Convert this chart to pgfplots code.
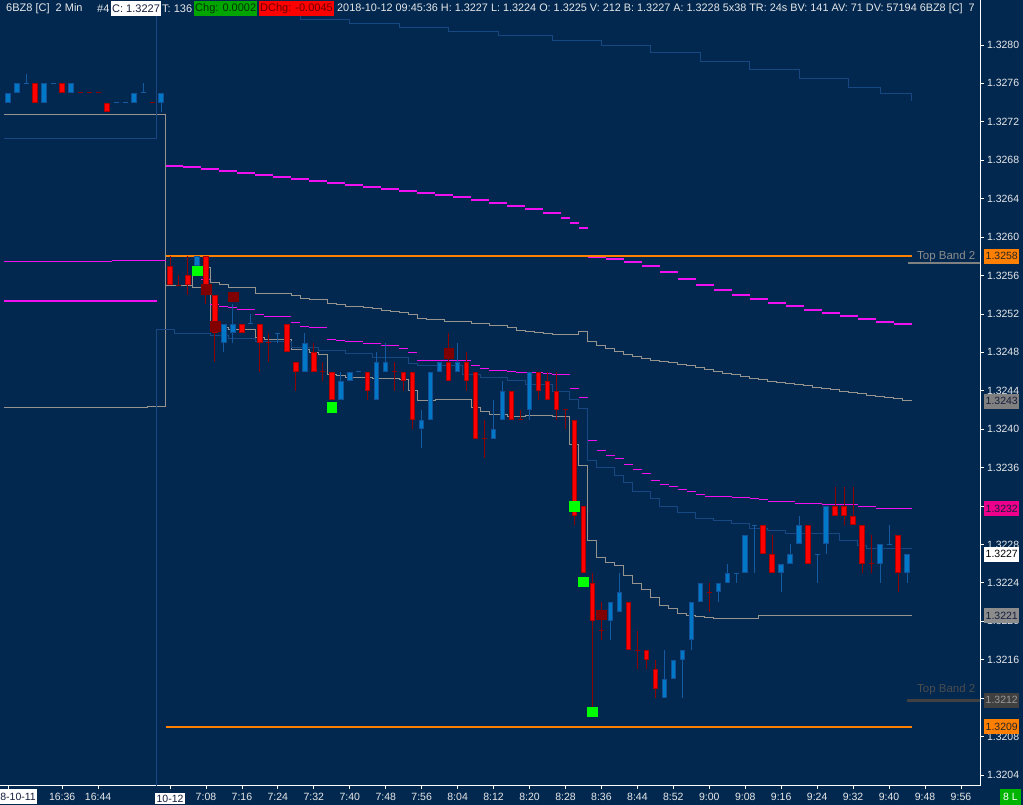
\documentclass[border=0pt]{standalone}
\usepackage{fontspec}
\setmainfont{Liberation Sans}
\usepackage{pgfplots}
\usepackage{pgfplotstable}
\pgfplotsset{compat=1.18}
\definecolor{bg}{RGB}{2,40,80}
\definecolor{hdr}{RGB}{232,232,232}
\definecolor{navytxt}{RGB}{20,30,60}
\definecolor{orng}{RGB}{255,128,0}
\definecolor{mag}{RGB}{240,16,240}
\definecolor{gline}{RGB}{150,148,142}
\definecolor{bline}{RGB}{24,72,130}
\definecolor{bfill}{RGB}{0,120,200}
\definecolor{bborder}{RGB}{20,80,150}
\definecolor{bwick}{RGB}{20,90,160}
\definecolor{rfill}{RGB}{255,0,0}
\definecolor{rborder}{RGB}{170,0,0}
\definecolor{rwick}{RGB}{140,0,0}
\definecolor{dred}{RGB}{128,0,0}
\definecolor{sqgreen}{RGB}{0,255,0}
\definecolor{hgreen}{RGB}{0,165,0}
\definecolor{lgreen}{RGB}{0,180,0}
\newcommand\hf{\fontsize{11}{13}\selectfont}
\newcommand\tf{\fontsize{10.5}{12}\selectfont}
\setlength{\fboxsep}{2pt}

% t = minutes after 7:00 (2-min bars), prices in 0.0001 above 1.3200, d: 1 blue, -1 red
\pgfplotstableread{
t o h l c d
-36 74 75 74 75 1
-34 75 76 75 76 1
-32 76 77 76 76 1
-30 76 76 74 74 -1
-28 74 76 74 76 1
-26 76 76 76 76 1
-24 76 76 75 75 -1
-22 75 76 75 76 1
-20 75 75 75 75 -1
-18 75 75 75 75 -1
-16 75 75 75 75 -1
-14 74 74 73 73 -1
-12 74 74 74 74 1
-10 74 74 74 74 1
-8 74 75 74 75 1
-6 75 76 75 75 1
-4 74 74 74 74 -1
-2 74 75 73 75 1
0 57 58 55 55 -1
2 55 56 55 55 -1
4 56 58 54 55 -1
6 57 58 57 58 1
8 58 58 53 54 -1
10 54 54 47 50 -1
12 49 51 48 51 1
14 50 53 49 51 1
16 51 51 50 50 -1
18 51 52 51 51 1
20 51 51 46 49 -1
22 49 50 47 49 -1
24 50 50 49 50 1
26 51 51 48 48 -1
28 47 47 44 46 -1
30 46 50 46 49 1
32 48 49 46 46 -1
34 46 47 45 46 -1
36 46 46 43 43 -1
38 43 46 43 45 1
40 45 46 45 46 1
42 46 46 46 46 1
44 46 46 43 44 -1
46 43 48 43 47 1
48 46 49 46 47 1
50 46 47 44 46 -1
52 46 46 44 45 -1
54 46 46 40 41 -1
56 40 42 38 41 1
58 41 46 41 46 1
60 46 47 46 47 1
62 47 50 45 45 -1
64 46 49 46 47 1
66 47 48 44 45 -1
68 46 46 39 39 -1
70 39 41 37 39 -1
72 39 43 39 40 1
74 41 45 41 44 1
76 44 44 41 41 -1
78 41 42 41 41 -1
80 42 46 41 46 1
82 46 46 43 44 -1
84 45 46 43 43 -1
86 44 46 41 42 -1
88 42 42 40 42 -1
90 41 41 30 31 -1
92 32 32 25 25 -1
94 24 25 10 20 -1
96 19 22 18 19 -1
98 20 22 18 22 1
100 21 25 21 23 1
102 22 22 17 17 -1
104 17 19 15 17 -1
106 17 17 15 16 -1
108 15 16 12 13 -1
110 12 17 12 14 1
112 14 16 14 16 1
114 16 17 12 17 1
116 18 22 17 22 1
118 22 24 22 24 1
120 23 24 21 23 -1
122 23 24 22 24 1
124 24 26 24 25 1
126 25 25 24 25 1
128 25 29 25 29 1
130 30 30 25 30 1
132 30 30 27 27 -1
134 27 29 25 25 -1
136 25 26 23 26 1
138 26 28 26 27 1
140 28 31 28 30 1
142 30 30 26 26 -1
144 27 27 24 27 1
146 28 32 27 32 1
148 32 34 31 31 -1
150 32 34 30 31 -1
152 31 34 30 30 -1
154 30 30 25 26 -1
156 26 29 25 26 -1
158 26 28 24 28 1
160 28 30 28 28 1
162 29 29 23 25 -1
164 25 27 24 27 1
}\bars

\begin{document}
\begin{tikzpicture}
\useasboundingbox (0pt,0pt) rectangle (1023pt,805pt);
\fill[bg] (0pt,0pt) rectangle (1023pt,805pt);
\begin{axis}[
  at={(0pt,19pt)}, anchor=south west,
  scale only axis,
  x=4.494pt, y=9.605pt,
  xmin=-37.83, xmax=180.24, ymin=2.85, ymax=82.92,
  axis x line*=bottom, axis y line*=right,
  axis line style={draw=white, line width=1pt},
  tick align=outside, major tick length=3.5pt,
  tick style={draw=white, line width=0.8pt},
  xtick={-36,-24,-16,0,8,16,24,32,40,48,56,64,72,80,88,96,104,112,120,128,136,144,152,160,168,176},
  xticklabels={{},16:36,16:44,{\colorbox{white}{\textcolor{navytxt}{10-12}}},7:08,7:16,7:24,7:32,7:40,7:48,7:56,8:04,8:12,8:20,8:28,8:36,8:44,8:52,9:00,9:08,9:16,9:24,9:32,9:40,9:48,9:56},
  ytick={4,8,...,80},
  yticklabels={1.3204,1.3208,1.3212,1.3216,1.3220,1.3224,1.3228,1.3232,1.3236,1.3240,1.3244,1.3248,1.3252,1.3256,1.3260,1.3264,1.3268,1.3272,1.3276,1.3280},
  ticklabel style={font=\tf, text=hdr},
  clip=true,
  candle/.style={draw=none, mark=none, error bars/.cd, y dir=both, y explicit, error mark=none},
]
% --- gray bands (prior day + session) ---
\addplot[const plot mark left, gline, line width=1pt] coordinates {
(-37,72.71) (-21,72.78) (-1,55.0) (5,56.8) (9,55.3) (11,55.1) (13,54.8) (15,54.7) (19,54.1) (27,53.9) (29,53.6) (31,53.5) (35,53.1) (37,53.0) (39,52.8) (43,52.7) (45,52.6) (47,52.4) (49,52.3) (51,52.1) (53,51.9) (55,51.5) (57,51.4) (61,51.2) (67,51.0) (71,50.8) (75,50.6) (77,50.3) (79,50.2) (81,50.1) (83,50.0) (85,49.9) (91,50.2) (93,49.1) (95,48.7) (97,48.45) (99,48.1) (101,47.8) (103,47.6) (105,47.4) (107,47.2) (109,47.0) (111,46.9) (113,46.7) (115,46.6) (117,46.4) (119,46.2) (121,46.0) (123,45.8) (125,45.7) (127,45.5) (129,45.3) (131,45.2) (133,45.0) (135,44.9) (137,44.8) (139,44.6) (141,44.5) (143,44.3) (145,44.2) (147,44.1) (149,43.9) (151,43.8) (153,43.7) (155,43.5) (157,43.4) (159,43.3) (161,43.2) (163,43.0) (165,42.9)};
\addplot[const plot mark left, gline, line width=1pt] coordinates {
(-37,42.28) (-5,42.41) (-1,55.0) (5,54.7) (9,50.61) (13,50.40) (17,50.33) (19,49.53) (21,49.36) (25,49.29) (27,48.25) (31,48.01) (33,47.73) (35,45.72) (37,45.54) (39,45.40) (45,45.30) (51,45.12) (53,44.01) (55,42.97) (59,43.11) (67,42.28) (69,41.79) (71,41.55) (75,41.37) (79,41.45) (85,41.30) (89,38.43) (91,36.17) (93,28.46) (95,26.66) (97,26.17) (99,25.76) (101,24.79) (103,23.96) (105,23.33) (107,22.50) (109,21.59) (111,21.28) (113,20.83) (115,20.62) (117,20.52) (119,20.42) (121,20.31) (127,20.24) (129,20.34) (131,20.6) (165,20.6)};
% --- blue bands ---
\addplot[const plot mark left, bline, line width=1pt] coordinates {
(-37,70.21) (-3,83.64) (7,83.33) (18,83.02) (29,82.6) (40,82.19) (51,81.77) (62,81.35) (73,80.94) (85,80.42) (96,79.9) (107,79.17) (118,78.33) (129,77.40) (140,76.46) (151,75.52) (158,74.90) (165,74.17)};
\addplot[const plot mark left, bline, line width=1pt] coordinates {
(-3,-5) (-3,50.33) (1,49.91) (9,49.71) (13,49.39) (19,49.08) (27,48.55) (33,48.14) (39,47.83) (45,47.41) (53,46.79) (55,46.58) (65,45.64) (69,45.33) (75,45.02) (79,44.60) (85,43.87) (89,43.14) (91,42.10) (93,36.69) (95,35.96) (99,35.13) (101,34.40) (103,33.46) (107,32.73) (109,31.90) (113,31.28) (117,30.75) (121,30.44) (125,30.13) (129,29.71) (133,29.40) (137,29.09) (149,28.46) (153,27.94) (155,27.53) (165,27.53)};
% --- magenta bands ---
\addplot[mag, line width=2pt] coordinates {(-37,53.38) (-3,53.38)};
\addplot[jump mark left, mag, line width=1pt] coordinates {(-37,57.48) (-13,57.58) (-1,57.58)};
\addplot[jump mark left, mag, line width=1.6pt] coordinates {
(-1,67.40) (3,67.30) (7,67.09) (11,66.88) (15,66.67) (19,66.47) (23,66.26) (27,66.05) (31,65.84) (35,65.63) (39,65.42) (43,65.22) (47,65.01) (51,64.80) (55,64.59) (59,64.38) (63,64.17) (67,63.86) (71,63.55) (75,63.24) (79,62.93) (83,62.51) (87,61.99) (89,61.47) (91,60.95) (93,60.95)};
\addplot[jump mark left, mag, line width=1.6pt] coordinates {
(93,57.93) (97,57.72) (101,57.41) (105,56.99) (109,56.37) (113,55.64) (117,55.01) (121,54.49) (125,53.97) (129,53.55) (133,53.14) (137,52.83) (141,52.41) (145,52.10) (149,51.79) (153,51.47) (157,51.16) (161,50.95) (165,50.85)};
\addplot[jump mark left, mag, line width=1pt] coordinates {
(5,55.95) (7,55.53) (9,53.03) (11,52.72) (13,52.62) (15,52.51) (19,51.89) (21,51.68) (27,51.06) (29,50.74) (31,50.54) (35,49.29) (37,49.18) (39,49.08) (43,48.97) (45,48.87) (47,48.76) (49,48.66) (51,48.45) (53,47.93) (55,47.20) (61,47.10) (67,46.58) (69,46.27) (71,46.06) (75,45.96) (77,45.85) (83,45.75) (85,45.64) (89,44.19) (91,43.25) (93,38.77) (95,37.73) (97,37.21) (99,36.90) (101,36.27) (103,35.75) (105,35.34) (107,34.7) (109,34.19) (111,33.98) (113,33.67) (115,33.46) (117,33.25) (119,33.04) (123,32.94) (125,32.84) (129,32.73) (131,32.63) (133,32.42) (139,32.21) (145,32.11) (153,31.90) (157,31.79) (163,31.69) (165,31.69)};
% --- orange lines and top band marks ---
\addplot[orng, line width=2pt] coordinates {(-1,58) (165,58)};
\addplot[orng, line width=2pt] coordinates {(-1,9) (165,9)};
\addplot[gray, line width=1.5pt] coordinates {(164.3,57.3) (180.3,57.3)};
\addplot[black!75, line width=3pt] coordinates {(164.1,11.8) (180.3,11.8)};
% --- candles: wicks ---
\addplot[candle, error bar style={draw=bwick, line width=1pt}]
  table[x=t, y expr={(\thisrow{h}+\thisrow{l})/2}, y error expr={ifthenelse(\thisrow{d}>0,(\thisrow{h}-\thisrow{l})/2,0)}] {\bars};
\addplot[candle, error bar style={draw=rwick, line width=1pt}]
  table[x=t, y expr={(\thisrow{h}+\thisrow{l})/2}, y error expr={ifthenelse(\thisrow{d}<0,(\thisrow{h}-\thisrow{l})/2,0)}] {\bars};
% --- candles: bodies ---
\addplot[candle, error bar style={draw=bborder, line width=5.5pt}]
  table[x=t, y expr={(\thisrow{o}+\thisrow{c})/2}, y error expr={ifthenelse(\thisrow{c}>\thisrow{o},(\thisrow{c}-\thisrow{o})/2,0)}] {\bars};
\addplot[candle, error bar style={draw=bfill, line width=3.5pt}]
  table[x=t, y expr={(\thisrow{o}+\thisrow{c})/2}, y error expr={ifthenelse(\thisrow{c}>\thisrow{o},(\thisrow{c}-\thisrow{o})/2-0.104,0)}] {\bars};
\addplot[candle, error bar style={draw=rborder, line width=5.5pt}]
  table[x=t, y expr={(\thisrow{o}+\thisrow{c})/2}, y error expr={ifthenelse(\thisrow{o}>\thisrow{c},(\thisrow{o}-\thisrow{c})/2,0)}] {\bars};
\addplot[candle, error bar style={draw=rfill, line width=3.5pt}]
  table[x=t, y expr={(\thisrow{o}+\thisrow{c})/2}, y error expr={ifthenelse(\thisrow{o}>\thisrow{c},(\thisrow{o}-\thisrow{c})/2-0.104,0)}] {\bars};
% --- doji ticks ---
\addplot[only marks, mark=-, mark size=2.5pt, mark options={draw=bwick, line width=1pt}, restrict y to domain=0:100]
  table[x=t, y expr={ifthenelse(\thisrow{o}==\thisrow{c},ifthenelse(\thisrow{d}>0,\thisrow{c},1000),1000)}] {\bars};
\addplot[only marks, mark=-, mark size=2.5pt, mark options={draw=rwick, line width=1pt}, restrict y to domain=0:100]
  table[x=t, y expr={ifthenelse(\thisrow{o}==\thisrow{c},ifthenelse(\thisrow{d}<0,\thisrow{c},1000),1000)}] {\bars};
% --- signal squares ---
\addplot[only marks, mark=square*, mark size=4.8pt, mark options={fill=dred, draw=dred}] coordinates {
(8,54.6) (14,53.8) (10,50.7) (62,47.9) (96,20.7)};
\addplot[only marks, mark=square*, mark size=4.8pt, mark options={fill=sqgreen, draw=sqgreen}] coordinates {
(6,56.5) (36,42.3) (90,32.0) (92,24.1) (94,10.6)};
% anchors for labels
\coordinate (r58) at (axis cs:180.24,58);
\coordinate (r43) at (axis cs:180.24,42.9);
\coordinate (r32) at (axis cs:180.24,31.7);
\coordinate (r27) at (axis cs:180.24,27);
\coordinate (r21) at (axis cs:180.24,20.6);
\coordinate (r12) at (axis cs:180.24,11.8);
\coordinate (r09) at (axis cs:180.24,9);
\coordinate (tb1) at (axis cs:166.2,58.0);
\coordinate (tb2) at (axis cs:166.2,12.9);
\end{axis}
% right axis line through header
\draw[white, line width=1pt] (980pt,786pt) -- (980pt,805pt);
% value boxes on price axis
\tikzset{vbox/.style={anchor=west, inner xsep=1.5pt, inner ysep=0pt, minimum height=15pt, font=\tf}}
\node[vbox, fill=orng, text=black!85] at ([xshift=4pt]r58) {1.3258};
\node[vbox, fill=gray, text=navytxt] at ([xshift=4pt]r43) {1.3243};
\node[vbox, fill=magenta, text=navytxt] at ([xshift=4pt]r32) {1.3232};
\node[vbox, fill=white, text=black] at ([xshift=4pt]r27) {1.3227};
\node[vbox, fill=gray!90, text=navytxt] at ([xshift=4pt]r21) {1.3221};
\node[vbox, fill=black!75, text=gray!80] at ([xshift=4pt]r12) {1.3212};
\node[vbox, fill=orng, text=black!85] at ([xshift=4pt]r09) {1.3209};
\node[anchor=west, inner sep=0pt, text=gray!90, font=\fontsize{11.5}{13}\selectfont] at (tb1) {Top Band 2};
\node[anchor=west, inner sep=0pt, text=black!70, font=\fontsize{11.5}{13}\selectfont] at (tb2) {Top Band 2};
% date box at left
\begin{scope}
\clip (0pt,0pt) rectangle (980pt,805pt);
\node[anchor=east, fill=white, text=navytxt, font=\tf, inner xsep=1pt, inner ysep=0pt, minimum height=15pt] at (37pt,8pt) {2018-10-11};
% header
\node[anchor=west, inner sep=0pt, text=hdr, font=\hf] at (6pt,796pt) {6BZ8 [C]\ \ 2 Min};
\node[anchor=west, inner sep=0pt, text=hdr, font=\hf] at (97pt,796pt) {\#4};
\node[anchor=west, fill=white, text=navytxt, font=\hf, inner xsep=1pt, inner ysep=0pt, minimum height=15pt] at (111pt,796pt) {C: 1.3227};
\node[anchor=west, inner sep=0pt, text=hdr, font=\hf] at (162pt,796pt) {T: 136};
\node[anchor=west, fill=hgreen, text=black!80!green, font=\hf, inner xsep=1pt, inner ysep=0pt, minimum height=15pt] at (194pt,796pt) {Chg: 0.0002};
\node[anchor=west, fill=rfill, text=black!60!red, font=\hf, inner xsep=1pt, inner ysep=0pt, minimum height=15pt] at (259pt,796pt) {DChg: -0.0045};
\node[anchor=west, inner sep=0pt, text=hdr, font=\fontsize{10.85}{13}\selectfont] at (337pt,796pt) {2018-10-12 09:45:36 H: 1.3227 L: 1.3224 O: 1.3225 V: 212 B: 1.3227 A: 1.3228 5x38 TR: 24s BV: 141 AV: 71 DV: 57194 6BZ8 [C]\ \ 7};
\end{scope}
\node[anchor=east, fill=lgreen, text=white, font=\tf, inner xsep=3pt, inner ysep=0pt, minimum height=16pt] at (1021pt,8pt) {8 L};
\end{tikzpicture}
\end{document}
